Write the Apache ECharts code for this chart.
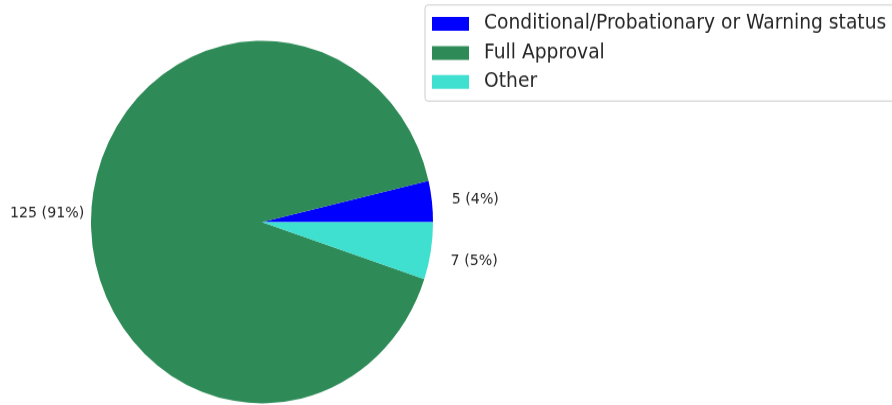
<!DOCTYPE html>
<html>
<head>
<meta charset="utf-8">
<script src="https://cdn.jsdelivr.net/npm/echarts@6/dist/echarts.min.js"></script>
<style>
html,body{margin:0;padding:0;background:#fff;overflow:hidden;}
#wrap{width:892px;height:405px;overflow:hidden;}
#chart{width:892px;height:382px;transform:scaleY(1.0602);transform-origin:0 0;}
</style>
</head>
<body>
<div id="wrap"><div id="chart"></div></div>
<script>
const categories = ["Conditional/Probationary or Warning status", "Full Approval", "Other"];
const counts = [5, 125, 7];
const colors = ["#0000ff", "#2e8b57", "#40e0d0"];

const total = counts.reduce((a, b) => a + b, 0);
const chart = echarts.init(document.getElementById('chart'));
chart.setOption({
  animation: false,
  backgroundColor: '#ffffff',
  legend: {
    data: categories,
    orient: 'vertical',
    left: 425,
    top: 4.7,
    padding: [7.8, 40, 8, 7],
    itemWidth: 37,
    itemHeight: 13,
    itemGap: 7.4,
    icon: 'rect',
    backgroundColor: '#ffffff',
    borderColor: '#cccccc',
    borderWidth: 1,
    borderRadius: 3,
    textStyle: {
      fontFamily: 'DejaVu Sans',
      fontSize: 18.7,
      color: '#262626',
      lineHeight: 20,
      padding: [0, 0, 0, 10]
    }
  },
  series: [{
    type: 'pie',
    center: [262, 209.4],
    radius: 171,
    startAngle: 0,
    clockwise: false,
    avoidLabelOverlap: false,
    data: categories.map((c, i) => ({ name: c, value: counts[i], itemStyle: { color: colors[i] } })),
    label: {
      show: true,
      position: 'outside',
      fontFamily: 'DejaVu Sans',
      fontSize: 14.2,
      color: '#262626',
      formatter: p => p.value + ' (' + Math.round(p.value / total * 100) + '%)'
    },
    labelLine: { show: false, length: 15, length2: 0 },
    labelLayout: function (params) {
      if (params.dataIndex === 1) return { dx: 13 };
      if (params.dataIndex === 2) return { dy: 7 };
      return {};
    },
    emphasis: { disabled: true }
  }]
});
</script>
</body>
</html>
